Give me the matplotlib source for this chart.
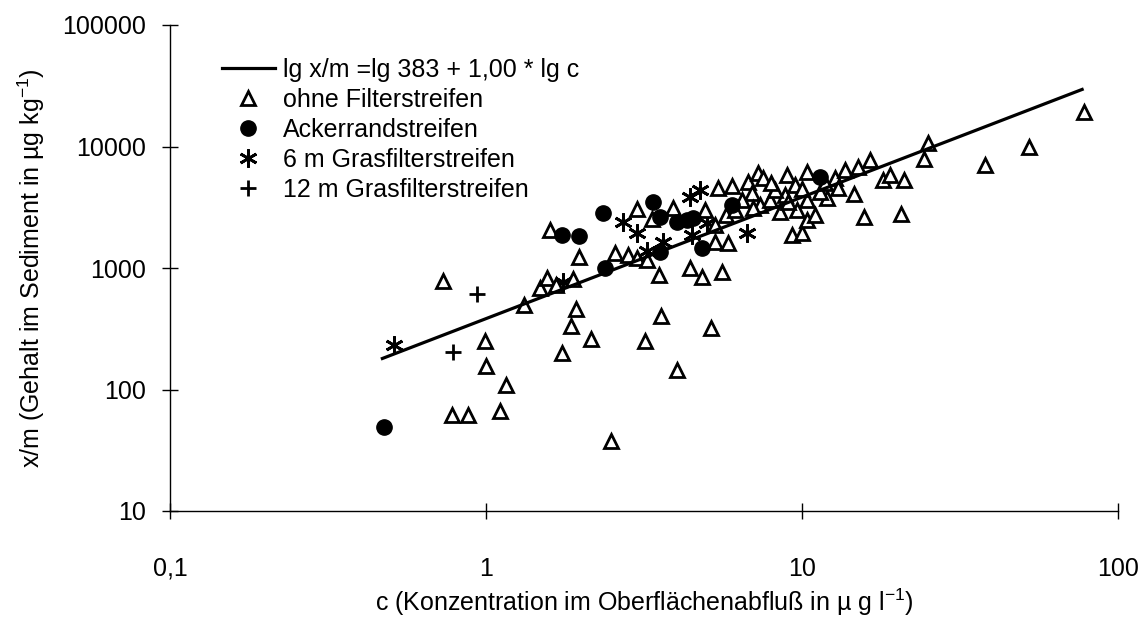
import numpy as np
import matplotlib
matplotlib.use("Agg")
import matplotlib.pyplot as plt
from matplotlib.ticker import FixedLocator, FixedFormatter

plt.rcParams['font.family'] = ['Liberation Sans', 'DejaVu Sans']
plt.rcParams['mathtext.default'] = 'regular'

# Messwerte: c in µg/l, x/m in µg/kg
ohne_c = [0.73, 0.99, 1.0, 1.16, 0.78, 0.88, 1.11, 1.32, 1.48, 1.56, 1.67, 1.88,
          1.59, 1.97, 1.93, 1.86, 2.15, 1.74, 3.58, 3.19, 5.15, 4.02, 2.49, 2.56,
          2.81, 3.0, 3.23, 3.53, 4.42, 4.83, 5.58, 5.3, 5.83, 3.0, 3.91, 3.35,
          5.42, 6.0, 6.75, 7.26, 7.53, 6.95, 6.46, 8.97, 10.4, 12.7, 13.7, 12.0,
          10.4, 9.64, 8.51, 9.3, 10.0, 10.4, 11.0, 5.3, 15.0, 16.4, 18.0, 19.0,
          21.0, 14.6, 15.7, 20.6, 24.3, 25.0, 37.9, 52.3, 78.0, 7.36, 7.92, 8.84,
          9.5, 8.2, 11.4, 13.0, 5.75, 6.14, 4.93, 8.0, 9.0, 10.0, 11.8, 7.0]
ohne_xm = [780, 250, 155, 108, 62, 62, 67, 496, 684, 828, 725, 812,
           2050, 1230, 460, 333, 261, 200, 403, 251, 321, 145, 38, 1330,
           1280, 1210, 1160, 876, 1000, 843, 927, 1640, 1620, 3060, 3120, 2530,
           4550, 4730, 5100, 6050, 5500, 4140, 3630, 5820, 6170, 5500, 6410, 3770,
           3630, 3000, 2890, 1870, 1940, 2480, 2730, 2260, 6780, 7740, 5300, 5820,
           5300, 4070, 2630, 2780, 7890, 10700, 7050, 9900, 19200, 3300, 3630, 3990,
           4820, 4390, 4230, 4550, 2730, 3000, 3000, 5000, 3500, 4500, 5000, 3100]

acker_c = [0.475, 1.74, 1.97, 2.35, 2.38, 3.38, 3.55, 3.55, 4.02, 4.32, 4.52, 4.83, 6.0, 11.4]
acker_xm = [49, 1870, 1850, 2840, 1000, 3490, 2630, 1355, 2390, 2480, 2580, 1460, 3300, 5600]

gras6_c = [0.512, 1.75, 2.71, 3.0, 3.23, 3.63, 4.76, 4.43, 5.0, 4.48, 6.7]
gras6_xm = [232, 767, 2400, 1940, 1380, 1640, 4390, 3840, 2345, 1870, 1940]

gras12_c = [0.937, 0.786]
gras12_xm = [611, 204]

# Regression: lg x/m = lg a + b * lg c
a = 383
b = 1.00
c_bereich = [0.47, 77]

xticks = [0.1, 1, 10, 100]
xlabels = ['0,1', '1', '10', '100']
yticks = [10, 100, 1000, 10000, 100000]
ylabels = ['10', '100', '1000', '10000', '100000']

fs = 18

fig = plt.figure(figsize=(11.44, 6.18), dpi=100)
ax = fig.add_axes([170 / 1144, 1 - 511 / 618, 948 / 1144, 486 / 618])

cc = np.geomspace(c_bereich[0], c_bereich[1], 50)
ax.plot(cc, a * cc ** b, color='black', lw=2.3, zorder=6,
        label='lg x/m =lg %d + %s * lg c' % (a, ('%.2f' % b).replace('.', ',')))
ax.plot(ohne_c, ohne_xm, linestyle='none', marker='^', ms=10, mfc='white',
        mec='black', mew=2, zorder=4, label='ohne Filterstreifen')
ax.plot(acker_c, acker_xm, linestyle='none', marker='o', ms=11, mfc='black',
        mec='black', zorder=5, label='Ackerrandstreifen')
ax.plot(gras6_c, gras6_xm, linestyle='none', marker=(6, 2, 0), ms=13,
        mec='black', mew=2, zorder=3, label='6 m Grasfilterstreifen')
ax.plot(gras12_c, gras12_xm, linestyle='none', marker='+', ms=12,
        mec='black', mew=2, zorder=5, label='12 m Grasfilterstreifen')

ax.set_xscale('log')
ax.set_yscale('log')
ax.set_xlim(0.1, 100)
ax.set_ylim(10, 100000)
ax.xaxis.set_major_locator(FixedLocator(xticks))
ax.xaxis.set_major_formatter(FixedFormatter(xlabels))
ax.yaxis.set_major_locator(FixedLocator(yticks))
ax.yaxis.set_major_formatter(FixedFormatter(ylabels))
ax.minorticks_off()
ax.tick_params(axis='both', direction='inout', length=12, width=1,
               labelsize=fs)
ax.tick_params(axis='x', pad=27)
ax.tick_params(axis='y', pad=11)

for s in ['top', 'right']:
    ax.spines[s].set_visible(False)
for s in ['left', 'bottom']:
    ax.spines[s].set_linewidth(1)

ax.set_xlabel(r'c (Konzentration im Oberflächenabfluß in µ g l$^{-1}$)',
              fontsize=fs, labelpad=4)
ax.set_ylabel(r'x/m (Gehalt im Sediment in µg kg$^{-1}$)', fontsize=fs,
              labelpad=11)

leg = ax.legend(loc='upper left', bbox_to_anchor=(222 / 1144, 1 - 58 / 618),
                bbox_transform=fig.transFigure, frameon=False, fontsize=fs,
                handlelength=2.1, handletextpad=0.35, labelspacing=0.24,
                borderpad=0, borderaxespad=0, numpoints=1)

fig.savefig('out.png', dpi=100)
